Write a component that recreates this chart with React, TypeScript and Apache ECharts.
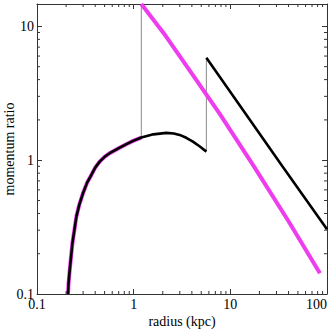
import React, { useEffect, useRef } from "react";
import * as echarts from "echarts";

const X_MIN = 0.1;
const X_MAX = 100;
const Y_MIN = 0.1;
const Y_MAX = 14.7;

// inner (shared) curve, radius in kpc and momentum ratio
const rInner = [0.2094, 0.212, 0.218, 0.2323, 0.2555, 0.275, 0.299, 0.33, 0.365, 0.4, 0.445, 0.5, 0.565, 0.7, 0.84, 1.0, 1.2, 1.6, 2.18, 2.6, 2.99, 3.5, 4.1, 4.8, 5.65];
const ratioInner = [0.1, 0.12, 0.151, 0.239, 0.379, 0.47, 0.566, 0.68, 0.776, 0.88, 0.976, 1.06, 1.128, 1.23, 1.317, 1.40, 1.476, 1.56, 1.6, 1.585, 1.545, 1.47, 1.377, 1.27, 1.159];

// magenta outer branch
const rMagenta = [1.2, 2.14, 4.0, 7.74, 17.4, 40, 84.5];
const ratioMagenta = [14.7, 8.5, 4.44, 2.23, 0.906, 0.35, 0.143];

// black outer branch
const rBlack = [5.65, 34.4, 100];
const ratioBlack = [5.82, 0.906, 0.305];

// thin grey jump connectors
const jumpR = [1.2, 5.65];
const jumpLow = [1.476, 1.159];
const jumpHigh = [14.7, 5.82];

const xMinorTicks = [0.2, 0.3, 0.4, 0.5, 0.6, 0.7, 0.8, 0.9, 2, 3, 4, 5, 6, 7, 8, 9, 20, 30, 40, 50, 60, 70, 80, 90];
const yMinorTicks = [0.2, 0.3, 0.4, 0.5, 0.6, 0.7, 0.8, 0.9, 2, 3, 4, 5, 6, 7, 8, 9];

const FONT = "Liberation Serif";
const FONT_SIZE = 14;
const AXIS_COLOR = "#333";

function fmt(v: number) {
  const l = Math.log10(v);
  if (Math.abs(l - Math.round(l)) > 1e-6) return "";
  return String(Number(v.toPrecision(6)));
}

export default function App() {
  const ref = useRef<HTMLDivElement>(null);
  useEffect(() => {
    if (!ref.current) return;
    const chart = echarts.init(ref.current, undefined, { renderer: "svg" });

    const innerData = rInner.map((r, i) => [r, ratioInner[i]]);
    const cut = rInner.indexOf(1.2);
    const magentaData: any[] = innerData.slice(0, cut + 1);
    magentaData.push(["-", "-"]);
    rMagenta.forEach((r, i) => magentaData.push([r, ratioMagenta[i]]));
    const blackOuter = rBlack.map((r, i) => [r, ratioBlack[i]]);

    const labelStyle = { fontFamily: FONT, fontSize: FONT_SIZE, color: "#000" };
    const axisCommon = {
      axisLine: { show: true, onZero: false, lineStyle: { color: AXIS_COLOR, width: 1 } },
      axisTick: { show: true, inside: true, length: 5, lineStyle: { color: AXIS_COLOR } },
      splitLine: { show: false },
    };

    const jumpSeries = jumpR.map((r, i) => ({
      type: "line",
      data: [[r, jumpLow[i]], [r, jumpHigh[i]]],
      symbol: "none",
      lineStyle: { color: "#8a8a8a", width: 1 },
      z: 1,
      silent: true,
    }));

    chart.setOption({
      animation: false,
      grid: { left: 37, right: 5, top: 4, bottom: 38, containLabel: false, outerBoundsMode: "none" },
      xAxis: [
        {
          type: "log",
          logBase: 10,
          min: X_MIN,
          max: X_MAX,
          position: "bottom",
          ...axisCommon,
          axisLabel: { ...labelStyle, margin: 3, formatter: fmt, alignMaxLabel: "right" },
          name: "radius (kpc)",
          nameLocation: "middle",
          nameGap: 20,
          nameMoveOverlap: false,
          nameTextStyle: { fontFamily: FONT, fontSize: FONT_SIZE, color: "#000" },
        },
        {
          type: "log",
          logBase: 10,
          min: X_MIN,
          max: X_MAX,
          position: "top",
          ...axisCommon,
          axisLabel: { show: false },
        },
      ],
      yAxis: [
        {
          type: "log",
          logBase: 10,
          min: Y_MIN,
          max: Y_MAX,
          position: "left",
          ...axisCommon,
          axisLabel: { ...labelStyle, margin: 3, formatter: fmt },
          name: "momentum ratio",
          nameLocation: "middle",
          nameGap: 21,
          nameMoveOverlap: false,
          nameTextStyle: { fontFamily: FONT, fontSize: FONT_SIZE, color: "#000" },
        },
        {
          type: "log",
          logBase: 10,
          min: Y_MIN,
          max: Y_MAX,
          position: "right",
          ...axisCommon,
          axisLabel: { show: false },
        },
      ],
      series: [
        ...jumpSeries,
        {
          type: "line",
          data: magentaData,
          symbol: "none",
          connectNulls: false,
          lineStyle: { color: "#ee3cee", width: 4 },
          z: 2,
          silent: true,
        },
        {
          type: "line",
          data: innerData,
          symbol: "none",
          lineStyle: { color: "#000", width: 2.6 },
          z: 3,
          silent: true,
        },
        {
          type: "line",
          data: blackOuter,
          symbol: "none",
          lineStyle: { color: "#000", width: 2.6 },
          z: 3,
          silent: true,
        },
        {
          type: "custom",
          data: xMinorTicks.map((v) => [v, 1]),
          silent: true,
          z: 5,
          renderItem: (params: any, api: any) => {
            const v = api.value(0);
            const b = api.coord([v, Y_MIN]);
            const t = api.coord([v, Y_MAX]);
            return {
              type: "group",
              children: [
                { type: "line", shape: { x1: b[0], y1: b[1], x2: b[0], y2: b[1] - 3 }, style: { stroke: AXIS_COLOR, lineWidth: 1 } },
                { type: "line", shape: { x1: t[0], y1: t[1], x2: t[0], y2: t[1] + 3 }, style: { stroke: AXIS_COLOR, lineWidth: 1 } },
              ],
            };
          },
        },
        {
          type: "custom",
          data: yMinorTicks.map((v) => [1, v]),
          silent: true,
          z: 5,
          renderItem: (params: any, api: any) => {
            const v = api.value(1);
            const l = api.coord([X_MIN, v]);
            const r = api.coord([X_MAX, v]);
            return {
              type: "group",
              children: [
                { type: "line", shape: { x1: l[0], y1: l[1], x2: l[0] + 3, y2: l[1] }, style: { stroke: AXIS_COLOR, lineWidth: 1 } },
                { type: "line", shape: { x1: r[0], y1: r[1], x2: r[0] - 3, y2: r[1] }, style: { stroke: AXIS_COLOR, lineWidth: 1 } },
              ],
            };
          },
        },
      ],
    });
    return () => chart.dispose();
  }, []);
  return (
    <div
      ref={ref}
      style={{ position: "fixed", left: 0, top: 0, width: 332, height: 332, background: "#fff" }}
    />
  );
}
